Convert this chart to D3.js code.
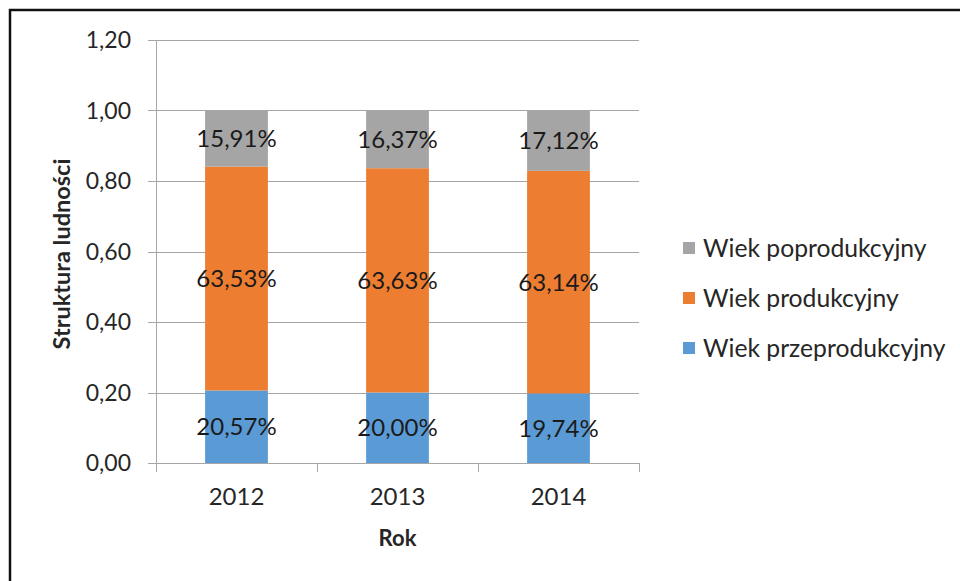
<!DOCTYPE html>
<html>
<head>
<meta charset="utf-8">
<script src="https://cdn.jsdelivr.net/npm/d3@7"></script>
<style>
  body { margin: 0; background: #fff; }
  svg { display: block; font-family: Lato, "Open Sans", sans-serif; }
</style>
</head>
<body>
<div id="chart"></div>
<script>
const years = ['2012', '2013', '2014'];
const seriesNames = ['Wiek przeprodukcyjny', 'Wiek produkcyjny', 'Wiek poprodukcyjny'];
const przed = [20.57, 20.00, 19.74];
const prod = [63.53, 63.63, 63.14];
const po = [15.91, 16.37, 17.12];
const yTicks = [0, 0.2, 0.4, 0.6, 0.8, 1.0, 1.2];
const colors = ['#5b9bd5', '#ed7d31', '#a5a5a5'];

const width = 960;
const height = 581;
const plot = { left: 156, right: 639, top: 40, bottom: 463 };

const svg = d3.select('#chart')
              .append('svg')
              .attr('width', width)
              .attr('height', height);

// outer frame
svg.append('path')
   .attr('d', `M10,${height + 5} V10 H${width + 5}`)
   .attr('fill', 'none')
   .attr('stroke', '#111')
   .attr('stroke-width', 2.5);

const x = d3.scaleBand()
            .domain(years)
            .range([plot.left, plot.right])
            .paddingInner(0.61)
            .paddingOuter(0.305);

const y = d3.scaleLinear()
            .domain([0, 1.2])
            .range([plot.bottom, plot.top]);

const fmt = v => d3.format('.2f')(v).replace('.', ',');

// gridlines + y ticks
svg.append('g')
   .selectAll('line')
   .data(yTicks)
   .enter()
   .append('line')
   .attr('x1', plot.left - 8)
   .attr('x2', plot.right)
   .attr('y1', d => Math.round(y(d)) + 0.5)
   .attr('y2', d => Math.round(y(d)) + 0.5)
   .attr('stroke', '#a6a6a6')
   .attr('stroke-width', 1);

svg.append('g')
   .selectAll('text')
   .data(yTicks)
   .enter()
   .append('text')
   .text(d => fmt(d))
   .attr('x', 131)
   .attr('y', d => y(d))
   .attr('dy', '0.35em')
   .attr('text-anchor', 'end')
   .attr('font-size', 23)
   .attr('fill', '#262626');

// y axis line
svg.append('line')
   .attr('x1', plot.left + 0.5)
   .attr('x2', plot.left + 0.5)
   .attr('y1', plot.top)
   .attr('y2', plot.bottom)
   .attr('stroke', '#a6a6a6');

// x axis ticks
const xTickPos = years.map(d => x(d) - x.step() * x.paddingInner() / 2).concat([plot.right]);
svg.append('g')
   .selectAll('line')
   .data(xTickPos)
   .enter()
   .append('line')
   .attr('x1', d => Math.round(d) + 0.5)
   .attr('x2', d => Math.round(d) + 0.5)
   .attr('y1', plot.bottom)
   .attr('y2', plot.bottom + 9)
   .attr('stroke', '#a6a6a6');

// stacked bars
const rows = years.map((yr, i) => ({ year: yr, values: [przed[i], prod[i], po[i]] }));
const stacked = [];
rows.forEach(r => {
  let acc = 0;
  r.values.forEach((v, k) => {
    stacked.push({ year: r.year, k: k, v: v, y0: acc / 100, y1: Math.min(acc + v, 100) / 100 });
    acc += v;
  });
});

svg.append('g')
   .selectAll('rect')
   .data(stacked)
   .enter()
   .append('rect')
   .attr('x', d => x(d.year))
   .attr('width', x.bandwidth())
   .attr('y', d => y(d.y1))
   .attr('height', d => y(d.y0) - y(d.y1))
   .attr('fill', d => colors[d.k]);

svg.append('g')
   .selectAll('text')
   .data(stacked)
   .enter()
   .append('text')
   .text(d => fmt(d.v) + '%')
   .attr('x', d => x(d.year) + x.bandwidth() / 2)
   .attr('y', d => y((d.y0 + d.y1) / 2))
   .attr('dy', '0.35em')
   .attr('text-anchor', 'middle')
   .attr('font-size', 24)
   .attr('fill', '#1a1a1a');

// x labels
svg.append('g')
   .selectAll('text')
   .data(years)
   .enter()
   .append('text')
   .text(d => d)
   .attr('x', d => x(d) + x.bandwidth() / 2)
   .attr('y', 497)
   .attr('dy', '0.35em')
   .attr('text-anchor', 'middle')
   .attr('font-size', 24)
   .attr('fill', '#262626');

svg.append('text')
   .text('Rok')
   .attr('x', (plot.left + plot.right) / 2)
   .attr('y', 538)
   .attr('dy', '0.35em')
   .attr('text-anchor', 'middle')
   .attr('font-size', 22)
   .attr('font-weight', 'bold')
   .attr('fill', '#262626');

svg.append('text')
   .text('Struktura ludności')
   .attr('transform', 'translate(62,254) rotate(-90)')
   .attr('dy', '0.35em')
   .attr('text-anchor', 'middle')
   .attr('font-size', 23.5)
   .attr('font-weight', 'bold')
   .attr('fill', '#262626');

// legend (reverse order, top = poprodukcyjny)
const legendOrder = [2, 1, 0];
const legend = svg.append('g')
                  .selectAll('g')
                  .data(legendOrder)
                  .enter()
                  .append('g')
                  .attr('transform', (d, i) => `translate(683,${248 + i * 50})`);

legend.append('rect')
      .attr('x', 0)
      .attr('y', -6)
      .attr('width', 12)
      .attr('height', 12)
      .attr('fill', d => colors[d]);

legend.append('text')
      .text(d => seriesNames[d])
      .attr('x', 20)
      .attr('y', 0)
      .attr('dy', '0.35em')
      .attr('font-size', 24.7)
      .attr('fill', '#262626');
</script>
</body>
</html>
